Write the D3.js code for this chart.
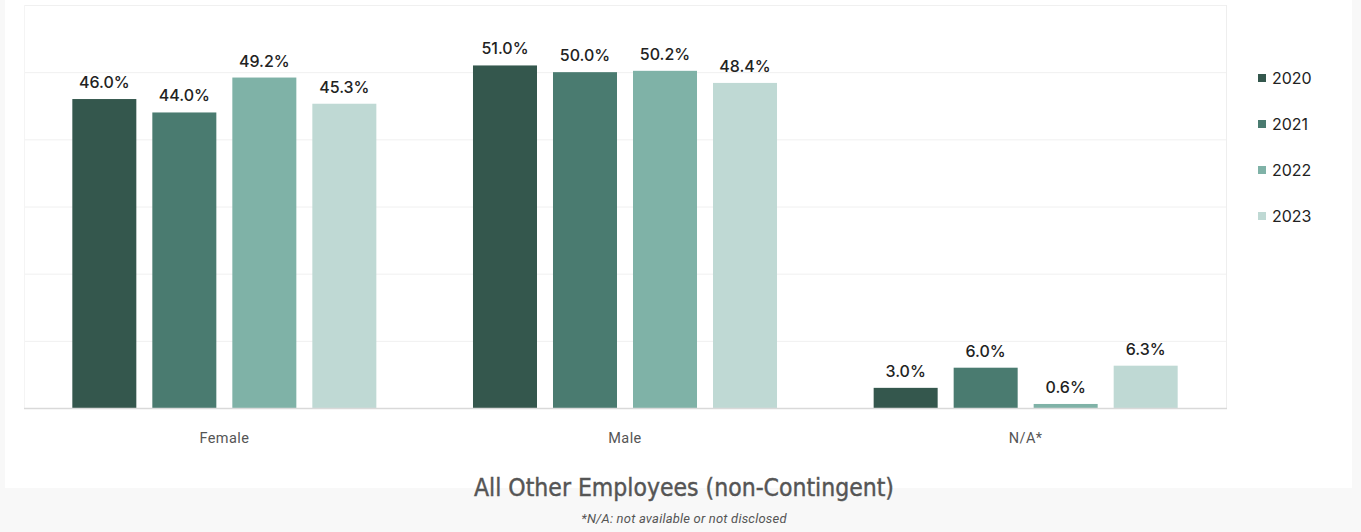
<!DOCTYPE html>
<html><head><meta charset="utf-8">
<script src="https://cdn.jsdelivr.net/npm/d3@7"></script>
<style>
html,body{margin:0;padding:0;background:#f8f8f8;}
svg{display:block;}
</style></head>
<body>
<svg id="chart" width="1361" height="532"></svg>
<script>
const categories = ["Female", "Male", "N/A*"];
const years = ["2020", "2021", "2022", "2023"];
const values2020 = [46.0, 51.0, 3.0];
const values2021 = [44.0, 50.0, 6.0];
const values2022 = [49.2, 50.2, 0.6];
const values2023 = [45.3, 48.4, 6.3];
const yTicks = [0, 10, 20, 30, 40, 50, 60];
const colors = ["#34574d", "#4a7b70", "#7fb2a7", "#bfd9d4"];
const title = "All Other Employees (non-Contingent)";
const footnote = "*N/A: not available or not disclosed";

const seriesValues = [values2020, values2021, values2022, values2023];
const data = categories.map((c, i) => ({cat: c, vals: years.map((y, j) => ({year: y, v: seriesValues[j][i]}))}));

const svg = d3.select("#chart");
svg.append("rect").attr("x", 5).attr("y", 0).attr("width", 1347).attr("height", 488).attr("fill", "#ffffff");

const pLeft = 24, pRight = 1226, pTop = 5, pBottom = 408;
const x0 = d3.scaleBand().domain(categories).range([pLeft, pRight]).padding(0);
const x1 = d3.scaleBand().domain(years).range([0, x0.bandwidth()]).paddingInner(0.2).paddingOuter(0.604);
const y = d3.scaleLinear().domain([0, 60]).range([pBottom, pTop]);

svg.append("g").selectAll("line").data(yTicks.filter(t => t > 0)).join("line")
  .attr("x1", pLeft).attr("x2", pRight)
  .attr("y1", d => y(d) + 0.5).attr("y2", d => y(d) + 0.5)
  .attr("stroke", "#f0f0f0").attr("stroke-width", 1);
svg.append("line").attr("x1", pRight + 0.5).attr("x2", pRight + 0.5).attr("y1", pTop).attr("y2", pBottom)
  .attr("stroke", "#eeeeee");
svg.append("line").attr("x1", pLeft + 0.5).attr("x2", pLeft + 0.5).attr("y1", pTop).attr("y2", pBottom)
  .attr("stroke", "#f4f4f4");

const groups = svg.append("g").selectAll("g").data(data).join("g")
  .attr("transform", d => `translate(${x0(d.cat)},0)`);
groups.selectAll("rect").data(d => d.vals).join("rect")
  .attr("x", d => x1(d.year)).attr("width", x1.bandwidth())
  .attr("y", d => y(d.v)).attr("height", d => y(0) - y(d.v))
  .attr("fill", (d, i) => colors[i]);
groups.selectAll("text").data(d => d.vals).join("text")
  .attr("x", d => x1(d.year) + x1.bandwidth() / 2)
  .attr("y", d => y(d.v) - 11)
  .attr("text-anchor", "middle")
  .attr("font-family", "Inter, sans-serif").attr("font-size", 16).attr("font-weight", 500)
  .attr("fill", "#222")
  .text(d => d.v.toFixed(1) + "%");

svg.append("line").attr("x1", pLeft).attr("x2", pRight + 1).attr("y1", pBottom + 0.5).attr("y2", pBottom + 0.5)
  .attr("stroke", "#d9d9d9").attr("stroke-width", 1.5);

const xAxis = svg.append("g").attr("transform", `translate(0,${pBottom})`)
  .call(d3.axisBottom(x0).tickSize(0).tickPadding(25));
xAxis.select(".domain").remove();
xAxis.selectAll("text").attr("font-family", "Roboto, sans-serif").attr("font-size", 14.5)
  .attr("letter-spacing", 0.4).attr("fill", "#555");

const leg = svg.append("g").selectAll("g").data(years).join("g")
  .attr("transform", (d, i) => `translate(1258,${78 + i * 46})`);
leg.append("rect").attr("x", 0).attr("y", -4).attr("width", 8).attr("height", 8)
  .attr("fill", (d, i) => colors[i]);
leg.append("text").attr("x", 14).attr("y", 0).attr("dy", "0.35em")
  .attr("font-family", "Inter, sans-serif").attr("font-size", 16).attr("fill", "#222")
  .text(d => d);

svg.append("text").attr("x", 684).attr("y", 496).attr("text-anchor", "middle")
  .attr("font-family", "'DejaVu Sans Condensed', 'DejaVu Sans', sans-serif").attr("font-size", 24.5)
  .attr("fill", "#555").attr("stroke", "#555").attr("stroke-width", 0.4).text(title);
svg.append("text").attr("x", 684).attr("y", 523).attr("text-anchor", "middle")
  .attr("font-family", "Roboto, sans-serif").attr("font-size", 13).attr("font-style", "italic")
  .attr("letter-spacing", 0.2).attr("fill", "#555").text(footnote);
</script>
</body></html>
